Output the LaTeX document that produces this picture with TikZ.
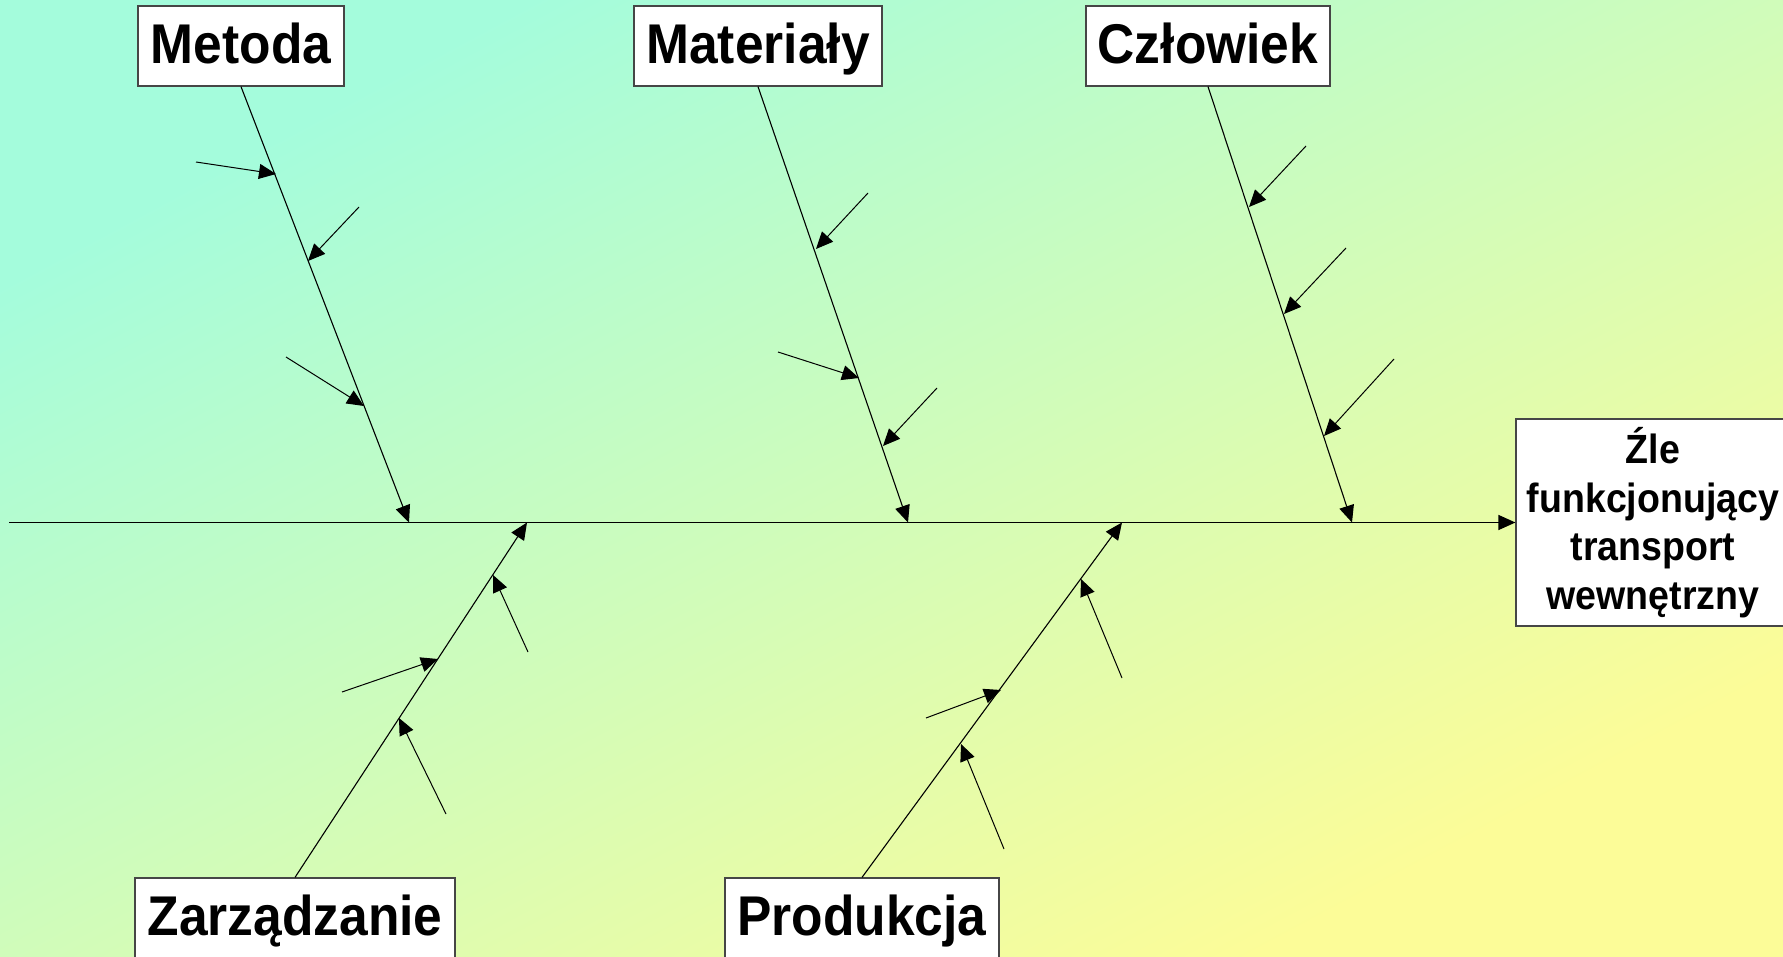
\documentclass[tikz,border=0pt]{standalone}
\usepackage{fontspec}
\setmainfont{Liberation Sans}[FakeStretch=0.92]
\usetikzlibrary{arrows.meta}

\definecolor{bgTop}{RGB}{164,252,220}
\definecolor{bgMid}{RGB}{216,252,184}
\definecolor{bgBot}{RGB}{252,252,152}
\definecolor{boxLine}{RGB}{70,70,70}

\begin{document}
\begin{tikzpicture}[x=0.5pt,y=-0.5pt,
  cause/.style={draw=boxLine, line width=0.6pt, fill=white, inner sep=0pt,
    minimum height=40pt, font=\fontsize{28}{30}\selectfont\bfseries,
    text height=20.4pt, text depth=2.8pt},
  effect/.style={draw=boxLine, line width=0.6pt, fill=white, inner sep=0pt,
    align=center, font=\fontsize{20.4}{24.3}\selectfont\bfseries},
  bone/.style={line width=0.55pt, -{Triangle[length=8.5pt,width=7.5pt]}},
  spine/.style={line width=0.7pt, -{Triangle[length=8.5pt,width=7.5pt]}},
  twig/.style={line width=0.5pt, -{Triangle[length=8.5pt,width=7.5pt]}}]

% background: diagonal gradient stretched over the whole page
\begin{scope}[transform canvas={xscale=1.8631}]
  \shade[top color=bgTop, middle color=bgMid, bottom color=bgBot, shading angle=45]
    (0,0) rectangle (957,957);
\end{scope}
\useasboundingbox (0,0) rectangle (1783,957);

% cause categories and the effect
\node[cause, minimum width=103pt] (met) at (241,46) {Metoda};
\node[cause, minimum width=124pt] (mat) at (758,46) {Materiały};
\node[cause, minimum width=122pt] (czl) at (1208,46) {Człowiek};
\node[cause, minimum width=160pt] (zar) at (295,918) {Zarządzanie};
\node[cause, minimum width=137pt] (pro) at (862,918) {Produkcja};
\node[effect, minimum width=137pt, minimum height=103.5pt] (eff) at (1653,522.5)
  {Źle\\funkcjonujący\\transport\\wewnętrzny};

% main spine
\coordinate (tail) at (9,522.5);
\draw[spine] (tail) -- (eff.west);

% points where the bones meet the spine
\coordinate (jm) at (409,522.5);
\coordinate (jt) at (908,522.5);
\coordinate (jc) at (1352,522.5);
\coordinate (jz) at (527,522.5);
\coordinate (jp) at (1122,522.5);

\draw[bone] (met.south) -- (jm);
\draw[bone] (mat.south) -- (jt);
\draw[bone] (czl.south) -- (jc);
\draw[bone] (zar.north) -- (jz);
\draw[bone] (pro.north) -- (jp);

% sub-causes: Metoda
\coordinate (m1s) at (196,162);  \coordinate (m1e) at (276,174);
\coordinate (m2s) at (359,207);  \coordinate (m2e) at (308,261);
\coordinate (m3s) at (286,357);  \coordinate (m3e) at (364,406);
\draw[twig] (m1s) -- (m1e);
\draw[twig] (m2s) -- (m2e);
\draw[twig] (m3s) -- (m3e);

% sub-causes: Materiały
\coordinate (t1s) at (868,193);  \coordinate (t1e) at (816,249);
\coordinate (t2s) at (778,352);  \coordinate (t2e) at (859,378);
\coordinate (t3s) at (937,388);  \coordinate (t3e) at (883,446);
\draw[twig] (t1s) -- (t1e);
\draw[twig] (t2s) -- (t2e);
\draw[twig] (t3s) -- (t3e);

% sub-causes: Człowiek
\coordinate (c1s) at (1306,146); \coordinate (c1e) at (1249,207);
\coordinate (c2s) at (1346,248); \coordinate (c2e) at (1284,314);
\coordinate (c3s) at (1394,359); \coordinate (c3e) at (1324,436);
\draw[twig] (c1s) -- (c1e);
\draw[twig] (c2s) -- (c2e);
\draw[twig] (c3s) -- (c3e);

% sub-causes: Zarządzanie
\coordinate (z1s) at (528,652);  \coordinate (z1e) at (493,575);
\coordinate (z2s) at (342,692);  \coordinate (z2e) at (438,659);
\coordinate (z3s) at (446,814);  \coordinate (z3e) at (399,718);
\draw[twig] (z1s) -- (z1e);
\draw[twig] (z2s) -- (z2e);
\draw[twig] (z3s) -- (z3e);

% sub-causes: Produkcja
\coordinate (p1s) at (1122,678); \coordinate (p1e) at (1081,579);
\coordinate (p2s) at (926,718);  \coordinate (p2e) at (1001,690);
\coordinate (p3s) at (1004,849); \coordinate (p3e) at (961,744);
\draw[twig] (p1s) -- (p1e);
\draw[twig] (p2s) -- (p2e);
\draw[twig] (p3s) -- (p3e);
\end{tikzpicture}
\end{document}
